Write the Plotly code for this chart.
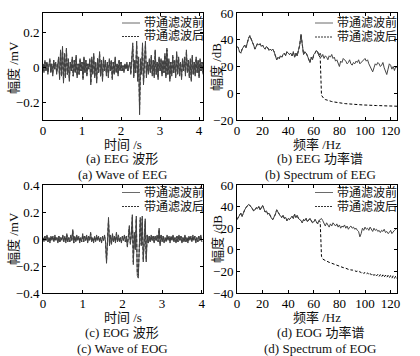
import plotly.graph_objects as go

# ---------------- data ----------------
dt = 0.025  # s sampling step of the digitised waveforms

eeg_before = [
    0.02,-0.03,0.04,-0.02,0.03,-0.04,0.01,0.05,-0.03,0.02,-0.05,0.04,-0.01,0.03,-0.04,0.02,0.06,
    -0.07,0.10,-0.05,0.12,-0.09,0.08,-0.06,0.11,
    -0.04,0.05,-0.08,0.03,-0.02,0.06,-0.05,0.04,-0.03,0.07,-0.06,0.02,-0.04,0.05,-0.02,0.03,-0.07,0.06,-0.03,0.04,-0.05,0.02,-0.01,0.05,
    -0.10,0.06,-0.04,0.08,-0.06,0.03,-0.09,0.05,-0.03,0.09,-0.05,0.04,-0.08,0.06,-0.02,0.04,
    -0.05,0.03,-0.06,0.05,-0.02,0.04,-0.07,0.03,-0.04,0.06,-0.03,0.02,-0.05,0.04,-0.02,0.03,
    -0.02,0.01,-0.03,0.02,-0.01,0.03,-0.02,0.02,
    0.03,-0.04,0.05,0.14,-0.06,0.04,-0.03,0.15,-0.08,0.06,-0.27,0.05,-0.04,0.14,-0.10,0.04,0.15,-0.06,0.03,-0.04,
    0.05,-0.03,0.07,-0.05,0.04,-0.06,0.10,-0.04,0.03,-0.07,0.06,-0.02,0.05,-0.05,0.04,-0.03,0.08,-0.06,0.11,-0.04,
    0.05,-0.08,0.03,-0.05,0.07,-0.03,0.04,-0.06,0.09,-0.04,0.06,-0.05,0.03,-0.07,0.05,-0.02,0.06,-0.05,0.10,-0.03,
    0.04,-0.06,0.05,-0.08,0.07,-0.04,0.03,-0.05,0.06,-0.03,0.04,-0.06,0.05,-0.02,0.03,-0.04,
]
eeg_after = [
    0.02,-0.02,0.03,-0.02,0.03,-0.03,0.01,0.04,-0.03,0.02,-0.04,0.04,-0.01,0.03,-0.03,0.02,0.05,
    -0.06,0.09,-0.05,0.11,-0.08,0.07,-0.06,0.10,
    -0.04,0.04,-0.07,0.03,-0.02,0.05,-0.05,0.04,-0.03,0.06,-0.05,0.02,-0.04,0.04,-0.02,0.03,-0.06,0.05,-0.03,0.04,-0.04,0.02,-0.01,0.04,
    -0.09,0.05,-0.04,0.07,-0.05,0.03,-0.08,0.05,-0.03,0.08,-0.05,0.04,-0.07,0.05,-0.02,0.04,
    -0.04,0.03,-0.05,0.04,-0.02,0.04,-0.06,0.03,-0.04,0.05,-0.03,0.02,-0.04,0.04,-0.02,0.03,
    -0.02,0.01,-0.02,0.02,-0.01,0.02,-0.02,0.02,
    0.03,-0.03,0.05,0.12,-0.05,0.04,-0.03,0.13,-0.07,0.05,-0.24,0.04,-0.03,0.12,-0.09,0.04,0.13,-0.05,0.03,-0.03,
    0.04,-0.03,0.06,-0.04,0.04,-0.05,0.09,-0.04,0.03,-0.06,0.05,-0.02,0.04,-0.04,0.04,-0.03,0.07,-0.05,0.10,-0.04,
    0.04,-0.07,0.03,-0.04,0.06,-0.03,0.04,-0.05,0.08,-0.04,0.05,-0.04,0.03,-0.06,0.04,-0.02,0.05,-0.04,0.09,-0.03,
    0.04,-0.05,0.04,-0.07,0.06,-0.04,0.03,-0.04,0.05,-0.03,0.04,-0.05,0.04,-0.02,0.03,-0.03,
]

eog_before = [
    0.01,-0.02,0.02,-0.01,0.03,-0.02,0.01,-0.03,0.02,-0.01,0.02,-0.02,0.03,-0.01,0.01,-0.03,0.02,-0.02,0.01,-0.01,
    0.03,-0.02,0.02,-0.03,0.04,-0.02,0.01,-0.02,0.03,-0.01,
    0.07,-0.03,0.02,-0.02,0.03,-0.01,0.02,-0.03,0.01,-0.02,0.04,-0.02,0.02,-0.01,0.03,-0.03,0.02,-0.01,0.05,-0.02,
    0.01,-0.03,0.02,-0.02,0.03,-0.01,0.02,-0.02,0.01,-0.03,0.02,-0.01,0.03,-0.02,
    -0.18,0.02,0.16,-0.05,0.03,-0.04,0.04,-0.02,
    0.02,-0.03,0.05,-0.02,0.03,-0.02,0.01,-0.03,0.02,-0.01,0.03,-0.02,0.02,-0.06,
    0.04,0.10,-0.04,0.03,0.18,-0.19,0.05,-0.08,0.17,-0.27,-0.29,0.06,0.16,-0.05,0.17,-0.17,0.04,0.15,-0.17,0.03,-0.03,0.02,
    -0.02,0.03,-0.01,0.02,-0.03,0.02,-0.01,0.03,-0.02,0.08,-0.05,0.03,-0.02,0.02,-0.03,0.01,-0.02,0.03,-0.01,0.02,
    -0.03,0.02,-0.01,0.03,-0.02,0.01,-0.03,0.02,-0.02,0.03,-0.01,0.02,-0.03,0.01,-0.02,0.03,-0.02,0.01,-0.03,0.02,
    -0.01,0.02,-0.02,0.03,-0.01,0.02,-0.03,0.01,-0.02,0.02,-0.01,0.03,-0.02,
]
eog_after = [
    0.01,-0.01,0.02,-0.01,0.02,-0.02,0.01,-0.02,0.02,-0.01,0.02,-0.02,0.02,-0.01,0.01,-0.02,0.02,-0.02,0.01,-0.01,
    0.02,-0.02,0.02,-0.02,0.03,-0.02,0.01,-0.02,0.02,-0.01,
    0.06,-0.03,0.02,-0.02,0.02,-0.01,0.02,-0.02,0.01,-0.02,0.03,-0.02,0.02,-0.01,0.02,-0.02,0.02,-0.01,0.04,-0.02,
    0.01,-0.02,0.02,-0.02,0.02,-0.01,0.02,-0.02,0.01,-0.02,0.02,-0.01,0.02,-0.02,
    -0.16,0.02,0.14,-0.04,0.03,-0.03,0.03,-0.02,
    0.02,-0.02,0.04,-0.02,0.03,-0.02,0.01,-0.02,0.02,-0.01,0.02,-0.02,0.02,-0.05,
    0.04,0.09,-0.03,0.03,0.16,-0.17,0.04,-0.07,0.15,-0.25,-0.27,0.05,0.14,-0.04,0.15,-0.15,0.04,0.13,-0.15,0.03,-0.03,0.02,
    -0.02,0.02,-0.01,0.02,-0.02,0.02,-0.01,0.02,-0.02,0.07,-0.04,0.03,-0.02,0.02,-0.02,0.01,-0.02,0.02,-0.01,0.02,
    -0.02,0.02,-0.01,0.02,-0.02,0.01,-0.02,0.02,-0.02,0.02,-0.01,0.02,-0.02,0.01,-0.02,0.02,-0.02,0.01,-0.02,0.02,
    -0.01,0.02,-0.02,0.02,-0.01,0.02,-0.02,0.01,-0.02,0.02,-0.01,0.02,-0.02,
]

# power spectra, 1 Hz bins 0..125 Hz (dB)
freq = list(range(126))
eeg_psd_before = [
    35,34,31,30,33,35,36,34,38,41,43,41,38,36,33,35,37,36,37,35,
    36,34,33,35,34,32,33,32,33,31,28,25,27,26,28,27,29,30,28,31,
    30,29,30,28,31,27,30,28,32,36,44,36,29,31,30,28,26,23,27,25,
    29,30,32,31,28,30,27,29,26,28,27,25,28,27,29,26,27,24,25,22,
    20,24,23,26,25,24,22,23,25,22,21,23,22,24,23,25,22,23,24,25,
    26,24,25,22,20,18,16,19,22,21,23,22,20,21,23,19,17,14,18,22,
    21,18,20,17,20,19,
]
eeg_psd_after_stop = [  # 65..125 Hz
    27,-1.5,-3.5,-4.2,-4.7,-5.1,-5.4,-5.7,-6.0,-6.2,-6.4,-6.6,-6.8,-7.0,-7.1,-7.3,
    -7.4,-7.5,-7.6,-7.7,-7.8,-7.9,-8.0,-8.1,-8.2,-8.2,-8.3,-8.4,-8.4,-8.5,-8.5,-8.6,
    -8.7,-8.7,-8.8,-8.8,-8.9,-8.9,-9.0,-9.0,-9.0,-9.1,-9.1,-9.2,-9.2,-9.2,-9.3,-9.3,
    -9.3,-9.4,-9.4,-9.4,-9.5,-9.5,-9.5,-9.5,-9.6,-9.6,-9.6,-9.7,-9.7,
]
eeg_psd_after = eeg_psd_before[:65] + eeg_psd_after_stop

eog_psd_before = [
    28,30,33,34,31,35,37,39,41,42,41,40,38,36,37,39,38,40,37,39,
    41,38,35,36,33,34,31,29,28,30,33,37,35,32,31,30,32,29,30,27,
    29,28,30,31,29,33,30,32,29,28,27,25,28,27,29,26,28,29,27,25,
    26,28,26,24,27,28,29,27,24,22,25,23,21,24,22,25,23,22,24,21,
    23,20,22,21,23,20,22,19,21,22,20,21,19,20,18,17,12,15,20,18,
    21,19,20,18,21,19,17,20,18,19,17,18,16,18,17,19,16,17,15,16,
    18,15,17,18,19,20,
]
eog_psd_after_stop = [  # 65..125 Hz
    26,-6,-8.5,-9.3,-10.0,-10.6,-11.0,-11.6,-12.0,-12.5,-13.0,-13.3,-13.9,-14.2,-14.8,-15.0,
    -15.6,-15.8,-16.5,-16.6,-17.3,-17.3,-18.1,-18.0,-18.8,-18.6,-19.5,-19.2,-20.1,-19.7,-20.7,-20.2,
    -21.3,-20.6,-21.9,-21.0,-22.4,-21.4,-22.9,-21.8,-23.4,-22.1,-23.8,-22.4,-24.2,-22.7,-24.6,-23.0,
    -25.0,-23.2,-25.3,-23.5,-25.6,-23.7,-25.9,-23.9,-26.2,-24.1,-26.4,-24.3,-26.6,
]
eog_psd_after = eog_psd_before[:65] + eog_psd_after_stop

t_eeg = [round(i * dt, 3) for i in range(len(eeg_before))]
t_eog = [round(i * dt, 3) for i in range(len(eog_before))]

legend_labels = ["带通滤波前", "带通滤波后"]
captions = [
    ("(a) EEG 波形", "(a) Wave of EEG"),
    ("(b) EEG 功率谱", "(b) Spectrum of EEG"),
    ("(c) EOG 波形", "(c) Wave of EOG"),
    ("(d) EOG 功率谱", "(d) Spectrum of EOG"),
]

# ---------------- figure ----------------
W, H = 420, 356
def X(px): return px / W
def Y(py): return 1 - py / H

SERIF = "Liberation Serif, Noto Sans CJK SC"
C_BEFORE = "#444444"
C_AFTER = "#000000"

fig = go.Figure()

def add_pair(xs, yb, ya, xa, ya_ax):
    # filtered (dashed) underneath, raw (solid) on top
    fig.add_trace(go.Scatter(x=xs, y=ya, mode="lines",
                             line=dict(color=C_AFTER, width=1, dash="3px,2px"),
                             xaxis=xa, yaxis=ya_ax, showlegend=False, name=legend_labels[1]))
    fig.add_trace(go.Scatter(x=xs, y=yb, mode="lines",
                             line=dict(color=C_BEFORE, width=1),
                             xaxis=xa, yaxis=ya_ax, showlegend=False, name=legend_labels[0]))

add_pair(t_eeg, eeg_before, eeg_after, "x", "y")
add_pair(freq, eeg_psd_before, eeg_psd_after, "x2", "y2")
add_pair(t_eog, eog_before, eog_after, "x3", "y3")
add_pair(freq, eog_psd_before, eog_psd_after, "x4", "y4")

def ax(domain, rng, ticks, anchor, is_x):
    d = dict(domain=domain, range=rng, tickvals=ticks, anchor=anchor,
             showline=True, linecolor="black", linewidth=1, mirror="ticks",
             ticks="inside", ticklen=3, tickcolor="black", tickwidth=1,
             tickfont=dict(family=SERIF, size=13, color="black"),
             showgrid=False, zeroline=False, fixedrange=True, automargin=False)
    if is_x:
        d["ticklabelstandoff"] = -2
    return d

L1, R1 = X(43), X(203)
L2, R2 = X(237), X(397)
T1, B1 = Y(13), Y(120)
T2, B2 = Y(185), Y(293)

fig.update_layout(
    width=W, height=H, autosize=False,
    margin=dict(l=0, r=0, t=0, b=0, pad=0),
    paper_bgcolor="white", plot_bgcolor="white",
    xaxis=ax([L1, R1], [0, 4.1], [0, 1, 2, 3, 4], "y", True),
    yaxis=ax([B1, T1], [-0.3, 0.31], [-0.2, 0, 0.2], "x", False),
    xaxis2=ax([L2, R2], [0, 125], [0, 20, 40, 60, 80, 100, 120], "y2", True),
    yaxis2=ax([B1, T1], [-20, 60], [-20, 0, 20, 40, 60], "x2", False),
    xaxis3=ax([L1, R1], [0, 4.03], [0, 1, 2, 3, 4], "y3", True),
    yaxis3=ax([B2, T2], [-0.4, 0.4], [-0.4, -0.2, 0, 0.2, 0.4], "x3", False),
    xaxis4=ax([L2, R2], [0, 125], [0, 20, 40, 60, 80, 100, 120], "y4", True),
    yaxis4=ax([B2, T2], [-40, 60], [-40, -20, 0, 20, 40, 60], "x4", False),
)

annotations = []
shapes = []
def txt(text, px, py, size=13, xanchor="center", angle=0):
    annotations.append(dict(text=text, x=X(px), y=Y(py), xref="paper", yref="paper",
                            xanchor=xanchor, yanchor="middle", showarrow=False, textangle=angle,
                            font=dict(family=SERIF, size=size, color="#111")))

# axis titles
txt("时间 /s", 123, 145); txt("时间 /s", 123, 317)
txt("频率 /Hz", 317, 145); txt("频率 /Hz", 317, 317)
txt("幅度 /mV", 13, 68, angle=-90); txt("幅度 /mV", 13, 239, angle=-90)
txt("幅度 /dB", 217, 67, angle=-90); txt("幅度 /dB", 217, 239, angle=-90)

# captions
cap_pos = [(122, 159, 174), (320, 159, 174), (122, 332, 348), (320, 332, 348)]
for (c1, c2), (cx, y1, y2) in zip(captions, cap_pos):
    txt(c1, cx, y1); txt(c2, cx, y2)

# in-plot legends
leg_pos = [(122, 23, 36.5), (315, 23, 37), (122, 192.5, 206.5), (315, 192.5, 206.5)]
for lx, ly1, ly2 in leg_pos:
    for (ly, lab, col, dash) in [(ly1, legend_labels[0], C_BEFORE, "solid"),
                                  (ly2, legend_labels[1], C_AFTER, "2px,1px")]:
        shapes.append(dict(type="line", xref="paper", yref="paper",
                           x0=X(lx), x1=X(lx + 18), y0=Y(ly), y1=Y(ly),
                           line=dict(color=col, width=0.8, dash=dash)))
        txt(lab, lx + 20, ly, size=12, xanchor="left")

fig.update_layout(annotations=annotations, shapes=shapes)
fig.write_html("out.html", config={"displayModeBar": False},
               post_script="document.body.style.margin='0';document.body.style.overflow='hidden';")
